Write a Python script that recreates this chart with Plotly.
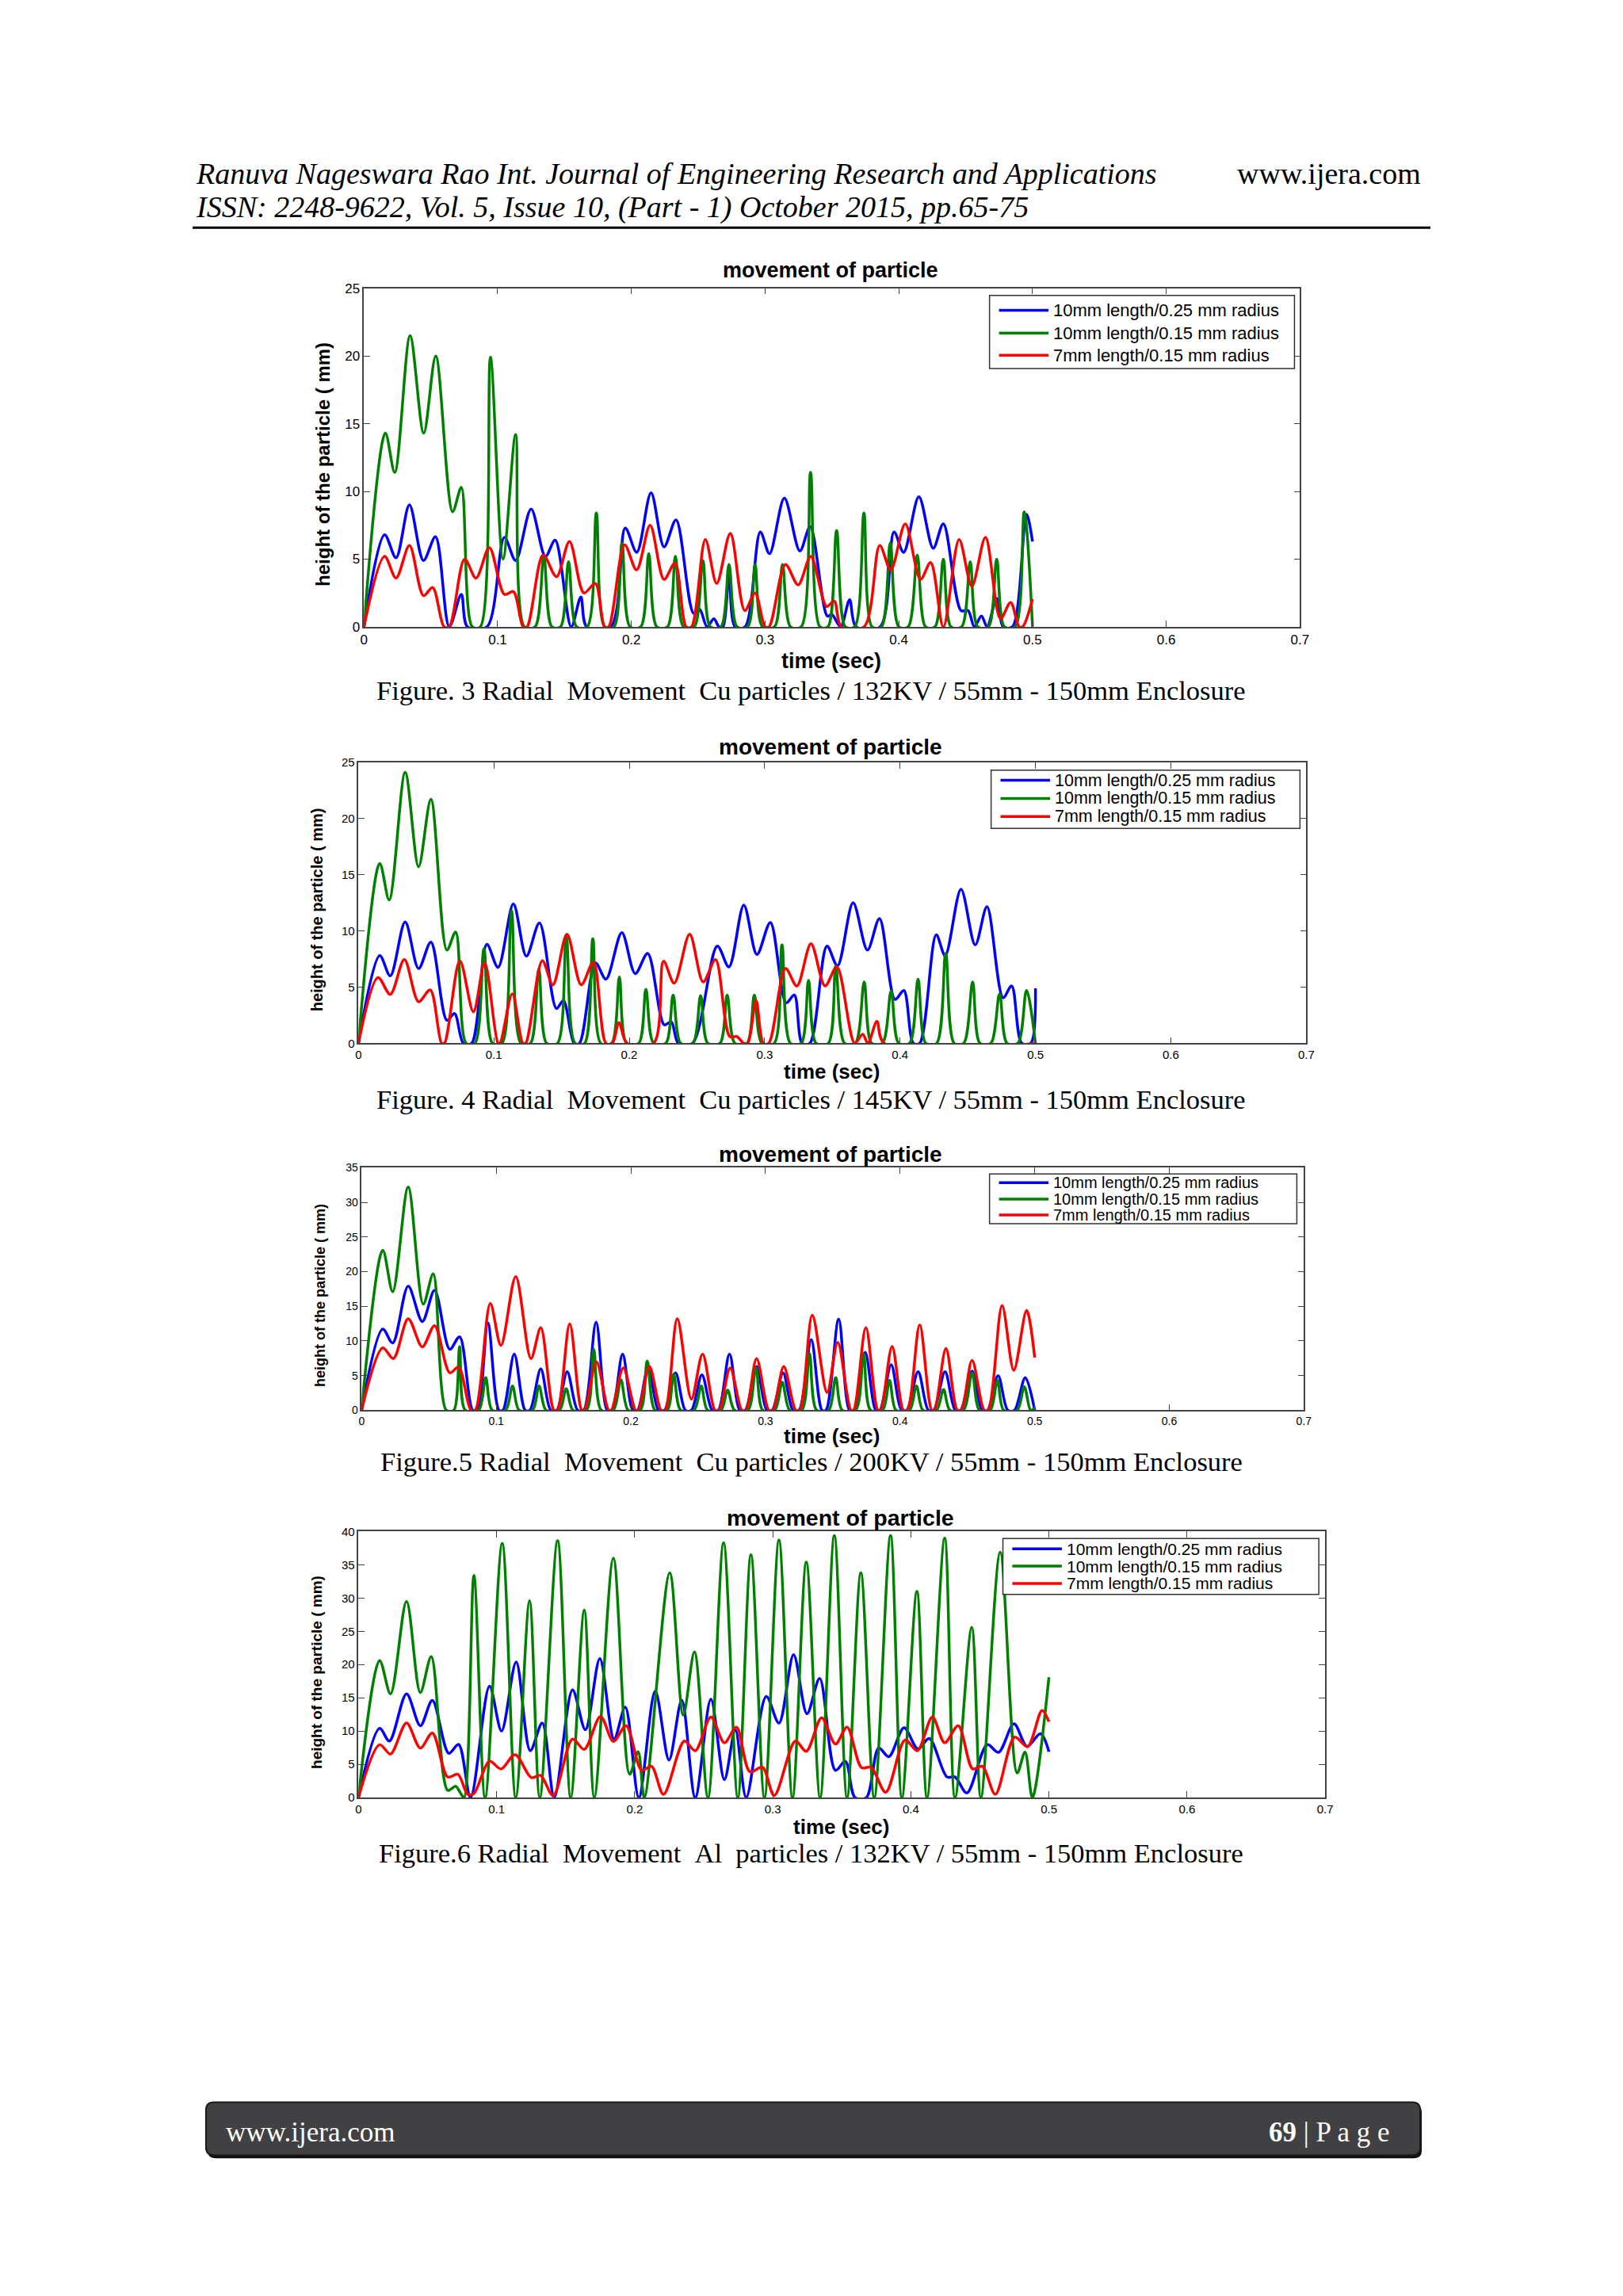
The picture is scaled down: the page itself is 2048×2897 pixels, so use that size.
import plotly.graph_objects as go

W, H = 2048, 2897


def fx(x):
    return x / W


def fy(y):
    return 1 - y / H


BLUE, GREEN, RED = "#0000ff", "#008000", "#ff0000"
SERIES_NAMES = ["10mm length/0.25 mm radius", "10mm length/0.15 mm radius", "7mm length/0.15 mm radius"]
X_TICKS = [0, 0.1, 0.2, 0.3, 0.4, 0.5, 0.6, 0.7]

# ---------------- Figure 3 (132 kV, Cu) ----------------
F3_BLUE = [(0, 0), (0.0154, 6.8), (0.024, 5.1), (0.034, 9.0), (0.0445, 4.9), (0.0535, 6.65), (0.0638, 0),
           (0.0728, 2.4), (0.0774, 0), (0.092, 0), (0.105, 6.6), (0.1134, 4.9), (0.125, 8.7), (0.1357, 5.2),
           (0.143, 6.4), (0.155, 0), (0.1622, 2.2), (0.1666, 0), (0.1846, 0), (0.1954, 7.3), (0.204, 5.5),
           (0.2147, 9.9), (0.2244, 5.9), (0.2334, 7.9), (0.2465, 1.0), (0.251, 1.3), (0.2566, 0), (0.2617, 0.6),
           (0.2655, 0), (0.2685, 0), (0.273, 3.8), (0.2775, 0), (0.285, 0), (0.2964, 7.0), (0.3033, 5.4),
           (0.3144, 9.5), (0.326, 5.6), (0.3337, 7.4), (0.3465, 0.8), (0.350, 0.9), (0.3565, 0), (0.3632, 2.0),
           (0.368, 0), (0.386, 0), (0.3964, 7.0), (0.4036, 5.5), (0.415, 9.6), (0.4257, 5.8), (0.4333, 7.6),
           (0.4465, 1.2), (0.4518, 1.2), (0.4565, 0), (0.4618, 0.8), (0.466, 0), (0.4732, 2.1), (0.478, 0),
           (0.485, 0), (0.4955, 8.3), (0.5, 6.3)]
F3_GREEN = [(0, 0), (0.016, 14.3), (0.023, 11.4), (0.0345, 21.5), (0.0447, 14.3), (0.0537, 20.0), (0.0663, 8.5),
            (0.0728, 10.3), (0.081, 0), (0.087, 0), (0.0946, 19.9), (0.104, 5.0), (0.1134, 14.2), (0.120, 0),
            (0.128, 0), (0.1345, 5.2), (0.1405, 0), (0.147, 0), (0.153, 4.8), (0.159, 0), (0.167, 0),
            (0.1738, 8.4), (0.180, 0), (0.187, 0), (0.193, 6.2), (0.199, 0), (0.207, 0), (0.213, 5.4), (0.219, 0),
            (0.227, 0), (0.2329, 5.2), (0.239, 0), (0.247, 0), (0.2535, 4.9), (0.259, 0), (0.267, 0), (0.273, 4.6),
            (0.279, 0), (0.287, 0), (0.2925, 4.6), (0.298, 0), (0.307, 0), (0.313, 4.6), (0.319, 0), (0.327, 0),
            (0.334, 11.4), (0.341, 0), (0.347, 0), (0.3535, 7.1), (0.360, 0), (0.367, 0), (0.3739, 8.4),
            (0.380, 0), (0.387, 0), (0.3936, 6.2), (0.400, 0), (0.407, 0), (0.4138, 5.3), (0.420, 0), (0.427, 0),
            (0.4333, 5.0), (0.439, 0), (0.447, 0), (0.4534, 4.8), (0.459, 0), (0.467, 0), (0.4732, 5.0),
            (0.479, 0), (0.487, 0), (0.4938, 8.5), (0.5, 0)]
F3_RED = [(0, 0), (0.0154, 5.2), (0.024, 3.6), (0.034, 6.0), (0.0445, 2.3), (0.0514, 2.9), (0.0599, 0),
          (0.0638, 0), (0.0753, 5.0), (0.0838, 3.6), (0.0938, 5.85), (0.105, 2.4), (0.1118, 2.6), (0.119, 0),
          (0.122, 0), (0.134, 5.3), (0.144, 3.7), (0.1537, 6.3), (0.1645, 2.5), (0.173, 3.2), (0.180, 0),
          (0.183, 0), (0.1949, 6.05), (0.2039, 4.2), (0.214, 7.5), (0.2244, 3.5), (0.2326, 4.7), (0.241, 0),
          (0.245, 0), (0.2553, 6.45), (0.2638, 3.2), (0.274, 6.9), (0.2848, 1.2), (0.2925, 2.5), (0.300, 0),
          (0.303, 0), (0.3152, 4.6), (0.3247, 3.1), (0.3342, 5.2), (0.346, 1.5), (0.3517, 1.9), (0.357, 0),
          (0.374, 0), (0.3857, 6.0), (0.394, 4.2), (0.4048, 7.6), (0.4162, 3.5), (0.4238, 4.75), (0.4333, 0),
          (0.4451, 6.45), (0.4546, 3.0), (0.4648, 6.6), (0.476, 0.6), (0.4836, 1.8), (0.490, 0), (0.4926, 0),
          (0.5, 2.05)]

# ---------------- Figure 4 (145 kV, Cu) ----------------
F4_BLUE = [(0, 0), (0.0157, 7.8), (0.0235, 6.0), (0.0345, 10.8), (0.0444, 6.65), (0.0535, 9.0), (0.0653, 2.05),
           (0.071, 2.65), (0.0775, 0), (0.0836, 0), (0.0948, 8.8), (0.1031, 6.75), (0.1144, 12.4), (0.124, 7.75),
           (0.1337, 10.7), (0.1462, 3.1), (0.1514, 3.8), (0.1593, 0), (0.1632, 0), (0.175, 7.15), (0.1828, 5.7),
           (0.1945, 9.85), (0.2044, 6.2), (0.2136, 8.0), (0.2258, 1.65), (0.231, 1.9), (0.2363, 0), (0.2467, 0),
           (0.265, 8.65), (0.2736, 6.8), (0.2846, 12.3), (0.2943, 7.9), (0.3042, 10.75), (0.3159, 3.6),
           (0.3219, 4.3), (0.3277, 0), (0.3334, 0), (0.346, 8.65), (0.3538, 6.9), (0.3653, 12.5), (0.3759, 8.3),
           (0.3848, 11.1), (0.3963, 3.9), (0.4028, 4.7), (0.4098, 0), (0.4145, 0), (0.4267, 9.65), (0.4333, 7.8),
           (0.445, 13.7), (0.4555, 8.75), (0.4642, 12.15), (0.4761, 4.05), (0.4824, 5.1), (0.4899, 0),
           (0.4965, 0), (0.5, 4.9)]
F4_GREEN = [(0, 0), (0.0157, 16.0), (0.0227, 12.75), (0.0345, 24.1), (0.0444, 15.7), (0.0535, 21.7),
            (0.0653, 8.3), (0.0718, 9.9), (0.0796, 0), (0.086, 0), (0.0927, 8.4), (0.099, 0), (0.106, 0),
            (0.113, 11.8), (0.120, 0), (0.127, 0), (0.1332, 6.6), (0.139, 0), (0.147, 0), (0.1535, 9.5),
            (0.160, 0), (0.167, 0), (0.1731, 9.3), (0.179, 0), (0.187, 0), (0.1927, 5.9), (0.198, 0), (0.207, 0),
            (0.2123, 4.8), (0.218, 0), (0.227, 0), (0.2324, 4.3), (0.238, 0), (0.247, 0), (0.2527, 4.25),
            (0.258, 0), (0.267, 0), (0.2723, 4.3), (0.278, 0), (0.287, 0), (0.2924, 4.3), (0.298, 0), (0.307, 0),
            (0.3128, 8.75), (0.319, 0), (0.327, 0), (0.3324, 5.6), (0.338, 0), (0.347, 0), (0.3525, 6.9),
            (0.359, 0), (0.367, 0), (0.3735, 5.45), (0.379, 0), (0.387, 0), (0.3934, 4.65), (0.399, 0),
            (0.407, 0), (0.4133, 5.7), (0.419, 0), (0.427, 0), (0.4337, 8.0), (0.440, 0), (0.447, 0),
            (0.4536, 5.45), (0.459, 0), (0.467, 0), (0.4735, 4.4), (0.479, 0), (0.487, 0), (0.4934, 4.7),
            (0.5, 0)]
F4_RED = [(0, 0), (0.0144, 5.85), (0.0235, 4.35), (0.0339, 7.45), (0.0444, 3.7), (0.053, 4.75), (0.0614, 0),
          (0.0635, 0), (0.0749, 7.35), (0.0849, 2.8), (0.0932, 7.15), (0.1031, 0), (0.1045, 0), (0.1136, 4.4),
          (0.1214, 0), (0.1235, 0), (0.1358, 7.35), (0.1436, 5.2), (0.154, 9.7), (0.1645, 5.2), (0.1735, 7.2),
          (0.1828, 0), (0.1875, 0), (0.1924, 1.85), (0.1984, 0), (0.218, 0), (0.2253, 7.3), (0.2332, 5.35),
          (0.2446, 9.7), (0.2546, 5.45), (0.2637, 7.45), (0.2742, 0.6), (0.2795, 0.6), (0.2845, 0), (0.2875, 0),
          (0.2937, 3.8), (0.299, 0), (0.303, 0), (0.3154, 6.65), (0.3238, 5.1), (0.3342, 8.85), (0.3446, 5.1),
          (0.3533, 6.8), (0.3665, 0), (0.3724, 0.8), (0.3763, 0), (0.3829, 1.95), (0.3883, 0), (0.5, 0)]

# ---------------- Figure 5 (200 kV, Cu) ----------------
F5_BLUE = [(0, 0), (0.0157, 11.7), (0.0231, 9.7), (0.0346, 17.9), (0.0451, 12.8), (0.0542, 17.3), (0.0655, 8.8),
           (0.0728, 10.6), (0.0825, 0), (0.086, 0), (0.0938, 12.6), (0.102, 0), (0.105, 0), (0.1134, 8.1),
           (0.1215, 0), (0.125, 0), (0.1331, 5.95), (0.1405, 0), (0.145, 0), (0.1527, 5.55), (0.1605, 0),
           (0.165, 0), (0.1742, 12.7), (0.1825, 0), (0.186, 0), (0.1939, 8.1), (0.2015, 0), (0.205, 0),
           (0.213, 6.3), (0.2205, 0), (0.225, 0), (0.2332, 5.4), (0.2405, 0), (0.245, 0), (0.2528, 5.1),
           (0.2605, 0), (0.265, 0), (0.2733, 8.1), (0.281, 0), (0.285, 0), (0.2934, 6.3), (0.301, 0), (0.305, 0),
           (0.3131, 5.4), (0.3205, 0), (0.325, 0), (0.334, 10.2), (0.342, 0), (0.345, 0), (0.3544, 13.15),
           (0.3625, 0), (0.366, 0), (0.3741, 8.35), (0.382, 0), (0.385, 0), (0.3934, 6.55), (0.401, 0),
           (0.405, 0), (0.4134, 5.55), (0.421, 0), (0.425, 0), (0.4334, 5.55), (0.441, 0), (0.445, 0),
           (0.4535, 5.65), (0.461, 0), (0.465, 0), (0.4728, 5.0), (0.480, 0), (0.485, 0), (0.4930, 4.7),
           (0.5, 0)]
F5_GREEN = [(0, 0), (0.0157, 23.1), (0.0231, 17.1), (0.0346, 32.2), (0.0458, 15.3), (0.0532, 19.7), (0.0629, 0),
            (0.0685, 0), (0.0728, 9.2), (0.077, 0), (0.087, 0), (0.0922, 4.7), (0.097, 0), (0.107, 0),
            (0.1121, 3.5), (0.117, 0), (0.127, 0), (0.1318, 3.5), (0.137, 0), (0.147, 0), (0.152, 3.1),
            (0.157, 0), (0.167, 0), (0.1724, 8.8), (0.178, 0), (0.187, 0), (0.1926, 4.4), (0.198, 0), (0.207, 0),
            (0.2122, 7.1), (0.218, 0), (0.227, 0), (0.2318, 5.2), (0.237, 0), (0.247, 0), (0.2523, 3.5),
            (0.257, 0), (0.267, 0), (0.2719, 2.9), (0.277, 0), (0.287, 0), (0.2929, 6.2), (0.298, 0), (0.307, 0),
            (0.3125, 4.05), (0.318, 0), (0.327, 0), (0.3327, 8.2), (0.338, 0), (0.347, 0), (0.3522, 4.7),
            (0.357, 0), (0.367, 0), (0.3729, 8.2), (0.378, 0), (0.387, 0), (0.3922, 4.3), (0.397, 0), (0.407, 0),
            (0.4122, 3.5), (0.417, 0), (0.427, 0), (0.4323, 3.0), (0.437, 0), (0.447, 0), (0.4535, 5.4),
            (0.459, 0), (0.467, 0), (0.4723, 4.3), (0.477, 0), (0.487, 0), (0.4923, 3.4), (0.497, 0), (0.5, 0.3)]
F5_RED = [(0, 0), (0.0157, 9.0), (0.0236, 7.45), (0.0346, 13.2), (0.0451, 9.15), (0.0542, 12.2), (0.0655, 5.4),
          (0.072, 6.2), (0.0812, 0), (0.0845, 0), (0.0956, 15.4), (0.1035, 9.35), (0.1145, 19.3), (0.1258, 7.45),
          (0.1331, 11.9), (0.1428, 0), (0.1455, 0), (0.1546, 12.45), (0.1635, 0), (0.1655, 0), (0.1744, 7.0),
          (0.1835, 0), (0.1855, 0), (0.1944, 6.1), (0.2035, 0), (0.2055, 0), (0.2138, 6.3), (0.2225, 0),
          (0.2255, 0), (0.2345, 13.2), (0.245, 1.6), (0.2533, 8.1), (0.2625, 0), (0.2655, 0), (0.2738, 6.1),
          (0.2825, 0), (0.2855, 0), (0.2934, 7.45), (0.3025, 0), (0.3055, 0), (0.3136, 6.3), (0.3225, 0),
          (0.3255, 0), (0.3348, 13.7), (0.3458, 2.55), (0.3537, 9.8), (0.3635, 0), (0.3655, 0), (0.3746, 11.9),
          (0.3835, 0), (0.3855, 0), (0.3941, 9.2), (0.4025, 0), (0.4055, 0), (0.4146, 12.3), (0.4235, 0),
          (0.4255, 0), (0.4341, 8.9), (0.4425, 0), (0.4455, 0), (0.4535, 7.2), (0.4625, 0), (0.4655, 0),
          (0.4758, 15.1), (0.4845, 5.75), (0.494, 14.4), (0.5, 7.6)]

# ---------------- Figure 6 (132 kV, Al) ----------------
F6_BLUE = [(0, 0), (0.0153, 10.4), (0.0224, 8.5), (0.0348, 15.6), (0.0448, 10.8), (0.0535, 14.6), (0.0654, 6.65),
           (0.0725, 8.0), (0.0812, 0), (0.0949, 16.75), (0.1036, 10.0), (0.1142, 20.4), (0.1244, 7.05),
           (0.1331, 11.2), (0.1418, 0), (0.155, 16.2), (0.1643, 10.2), (0.1748, 20.9), (0.1851, 8.8),
           (0.1932, 13.6), (0.203, 0), (0.2149, 16.0), (0.2249, 5.65), (0.2341, 14.65), (0.2439, 0),
           (0.2552, 14.8), (0.265, 2.7), (0.2729, 10.2), (0.2808, 0), (0.2953, 15.2), (0.3045, 11.2),
           (0.3151, 21.5), (0.3248, 12.6), (0.334, 17.9), (0.3454, 4.1), (0.3526, 5.45), (0.3596, 0),
           (0.3678, 0), (0.3767, 7.45), (0.3841, 6.15), (0.3951, 10.5), (0.4051, 7.3), (0.4133, 8.9),
           (0.4262, 3.1), (0.432, 3.1), (0.4406, 0.7), (0.4553, 7.95), (0.4635, 6.8), (0.4747, 11.1),
           (0.4841, 7.7), (0.4939, 9.6), (0.5, 6.9)]
F6_GREEN = [(0, 0), (0.0153, 20.6), (0.0232, 15.6), (0.0348, 29.5), (0.0448, 15.8), (0.0527, 21.2),
            (0.0646, 1.1), (0.0704, 1.7), (0.0738, 0.7), (0.0765, 0), (0.0836, 33.4), (0.0917, 0),
            (0.1041, 38.2), (0.1139, 0), (0.1239, 29.6), (0.1313, 0), (0.1442, 38.6), (0.1537, 0),
            (0.1635, 28.2), (0.1708, 0), (0.1846, 36.0), (0.1964, 3.5), (0.2025, 6.9), (0.207, 0),
            (0.2254, 33.8), (0.2352, 12.4), (0.2433, 21.9), (0.2531, 0), (0.2644, 38.3), (0.2747, 0),
            (0.2842, 36.5), (0.294, 0), (0.3045, 38.7), (0.3143, 0), (0.3243, 35.4), (0.3343, 0),
            (0.3446, 39.4), (0.3538, 0), (0.3638, 33.8), (0.3735, 0), (0.3853, 39.4), (0.3935, 0),
            (0.4044, 31.0), (0.4117, 0), (0.4245, 39.0), (0.432, 0), (0.4441, 25.6), (0.4507, 0),
            (0.4647, 36.9), (0.477, 3.7), (0.4827, 6.85), (0.488, 0), (0.5, 18.1)]
F6_RED = [(0, 0), (0.0153, 7.95), (0.0232, 6.55), (0.0348, 11.2), (0.0448, 7.45), (0.0535, 9.7), (0.0646, 3.1),
          (0.072, 3.5), (0.0791, 0.5), (0.0835, 0.6), (0.0949, 5.45), (0.1033, 4.3), (0.1134, 6.45),
          (0.1252, 3.0), (0.1318, 3.35), (0.141, 0.3), (0.155, 8.8), (0.1635, 7.25), (0.1753, 12.2),
          (0.1846, 8.45), (0.1938, 10.8), (0.2051, 4.1), (0.2122, 4.7), (0.2209, 0.5), (0.236, 8.5),
          (0.2439, 7.05), (0.2552, 12.1), (0.265, 8.25), (0.2737, 10.6), (0.2834, 3.9), (0.2926, 4.55),
          (0.3011, 0.3), (0.3164, 8.5), (0.3243, 6.95), (0.3354, 12.0), (0.3454, 8.05), (0.3538, 10.6),
          (0.3643, 4.5), (0.3713, 4.55), (0.3818, 0.8), (0.3958, 8.65), (0.4047, 7.05), (0.4156, 12.1),
          (0.4245, 8.25), (0.4343, 10.8), (0.4448, 4.3), (0.4518, 4.7), (0.4612, 0.5), (0.4752, 9.1),
          (0.4845, 7.65), (0.495, 13.1), (0.5, 11.4)]

CAPTIONS = [
    "Figure. 3 Radial \u00a0Movement \u00a0Cu particles / 132KV / 55mm - 150mm Enclosure",
    "Figure. 4 Radial \u00a0Movement \u00a0Cu particles / 145KV / 55mm - 150mm Enclosure",
    "Figure.5 Radial \u00a0Movement \u00a0Cu particles / 200KV / 55mm - 150mm Enclosure",
    "Figure.6 Radial \u00a0Movement \u00a0Al \u00a0particles / 132KV / 55mm - 150mm Enclosure",
]
Y_MAX = [25, 25, 35, 40]
DATA = [(F3_BLUE, F3_GREEN, F3_RED), (F4_BLUE, F4_GREEN, F4_RED),
        (F5_BLUE, F5_GREEN, F5_RED), (F6_BLUE, F6_GREEN, F6_RED)]

# layout (pixel positions on the page)
PANELS = [
    dict(box=(450, 1641, 349, 779), tick=17, leg=(1246, 1634, 358, 451), leg_rows=(377, 406, 434), legfont=22,
         title=(1044, 326, 27), xl=(1045, 822, 27), yl=(398, 573, 24), cap_y=860),
    dict(box=(443, 1649, 951, 1308), tick=15, leg=(1248, 1641, 961, 1035), leg_rows=(974, 997, 1020),
         legfont=21.5, title=(1044, 932, 28), xl=(1045, 1344, 26), yl=(390, 1138, 20), cap_y=1379),
    dict(box=(447, 1646, 1466, 1774), tick=14, leg=(1246, 1637, 1474, 1537), leg_rows=(1485, 1506, 1526),
         legfont=20, title=(1044, 1449, 28), xl=(1045, 1807, 26), yl=(395, 1628, 18), cap_y=1839),
    dict(box=(443, 1673, 1928, 2266), tick=15, leg=(1263, 1665, 1937, 2008), leg_rows=(1950, 1972, 1994),
         legfont=21, title=(1056, 1911, 28.5), xl=(1057, 2303, 26), yl=(389, 2107, 19), cap_y=2336),
]

SANS = "Liberation Sans, Arial, sans-serif"
SERIF = "Liberation Serif, Times New Roman, serif"

fig = go.Figure()
layout = dict(width=W, height=H, margin=dict(l=0, r=0, t=0, b=0), paper_bgcolor="white",
              plot_bgcolor="white", showlegend=False)
annotations = []
shapes = []

for i, (panel, series, ymax, cap) in enumerate(zip(PANELS, DATA, Y_MAX, CAPTIONS)):
    n = i + 1
    xa = "x" if n == 1 else f"x{n}"
    ya = "y" if n == 1 else f"y{n}"
    for pts, color, name in zip(series, (BLUE, GREEN, RED), SERIES_NAMES):
        t, y = zip(*pts)
        fig.add_trace(go.Scatter(x=list(t), y=list(y), mode="lines", name=name, xaxis=xa, yaxis=ya,
                                 line=dict(color=color, width=3.5, shape="spline", smoothing=0.9),
                                 hoverinfo="skip"))
    L, R, T, B = panel["box"]
    axis_common = dict(showgrid=False, zeroline=False, showline=True, linecolor="#444", linewidth=1.5,
                       mirror="ticks", ticks="inside", ticklen=8, tickwidth=1, tickcolor="#444",
                       tickfont=dict(family=SANS, size=panel["tick"], color="black"), fixedrange=True)
    layout["xaxis" if n == 1 else f"xaxis{n}"] = dict(
        domain=[fx(L), fx(R)], anchor=ya, range=[0, 0.7], tickvals=X_TICKS,
        ticktext=[("%g" % v) for v in X_TICKS], **axis_common)
    yt = list(range(0, ymax + 1, 5))
    layout["yaxis" if n == 1 else f"yaxis{n}"] = dict(
        domain=[fy(B), fy(T)], anchor=xa, range=[0, ymax], tickvals=yt, **axis_common)

    # legend box (drawn like the MATLAB legend)
    lx0, lx1, ly0, ly1 = panel["leg"]
    shapes.append(dict(type="rect", xref="paper", yref="paper", x0=fx(lx0), x1=fx(lx1), y0=fy(ly1), y1=fy(ly0),
                       fillcolor="white", line=dict(color="#333", width=1.5), layer="above"))
    for row_y, color, name in zip(panel["leg_rows"], (BLUE, GREEN, RED), SERIES_NAMES):
        shapes.append(dict(type="line", xref="paper", yref="paper", x0=fx(lx0 + 12), x1=fx(lx0 + 75),
                           y0=fy(row_y), y1=fy(row_y), line=dict(color=color, width=3.5), layer="above"))
        annotations.append(dict(text=name, x=fx(lx0 + 79), y=fy(row_y), xref="paper", yref="paper",
                                showarrow=False, xanchor="left", yanchor="middle",
                                font=dict(family=SANS, size=panel["legfont"], color="black")))

    tx, ty, ts = panel["title"]
    annotations.append(dict(text="movement of particle", x=fx(tx), y=fy(ty),
                            xref="paper", yref="paper", showarrow=False, xanchor="center", yanchor="middle",
                            font=dict(family=SANS, size=ts, color="black", weight="bold")))
    xx, xy, xs = panel["xl"]
    annotations.append(dict(text="time (sec)", x=fx(xx), y=fy(xy),
                            xref="paper", yref="paper", showarrow=False, xanchor="center", yanchor="middle",
                            font=dict(family=SANS, size=xs, color="black", weight="bold")))
    yx, yy, ys = panel["yl"]
    annotations.append(dict(text="height of the particle ( mm)", x=fx(yx), y=fy(yy),
                            xref="paper", yref="paper", showarrow=False, xanchor="center", yanchor="middle",
                            textangle=-90, font=dict(family=SANS, size=ys, color="black", weight="bold")))
    annotations.append(dict(text=cap, x=fx(1019), y=fy(panel["cap_y"]), xref="paper", yref="paper",
                            showarrow=False, xanchor="center", yanchor="middle",
                            font=dict(family=SERIF, size=34.5, color="black")))

# page header
annotations.append(dict(text="Ranuva Nageswara Rao Int. Journal of Engineering Research and Applications",
                        x=fx(234), y=fy(203), xref="paper", yref="paper", showarrow=False, xanchor="left",
                        yanchor="middle", font=dict(family=SERIF, size=38, color="black", style="italic")))
annotations.append(dict(text="www.ijera.com", x=fx(1797), y=fy(203), xref="paper", yref="paper",
                        showarrow=False, xanchor="right", yanchor="middle",
                        font=dict(family=SERIF, size=38, color="black")))
annotations.append(dict(text="ISSN: 2248-9622, Vol. 5, Issue 10, (Part - 1) October 2015, pp.65-75",
                        x=fx(234), y=fy(246), xref="paper", yref="paper", showarrow=False, xanchor="left",
                        yanchor="middle", font=dict(family=SERIF, size=38, color="black", style="italic")))
shapes.append(dict(type="line", xref="paper", yref="paper", x0=fx(232), x1=fx(1807), y0=fy(272), y1=fy(272),
                   line=dict(color="black", width=3)))


# page footer box
def rounded_rect(x0, y0, x1, y1, r):
    return (f"M {fx(x0 + r)} {fy(y0)} L {fx(x1 - r)} {fy(y0)} Q {fx(x1)} {fy(y0)} {fx(x1)} {fy(y0 + r)} "
            f"L {fx(x1)} {fy(y1 - r)} Q {fx(x1)} {fy(y1)} {fx(x1 - r)} {fy(y1)} "
            f"L {fx(x0 + r)} {fy(y1)} Q {fx(x0)} {fy(y1)} {fx(x0)} {fy(y1 - r)} "
            f"L {fx(x0)} {fy(y0 + r)} Q {fx(x0)} {fy(y0)} {fx(x0 + r)} {fy(y0)} Z")


shapes.append(dict(type="path", xref="paper", yref="paper", path=rounded_rect(251, 2656, 1796, 2724, 10),
                   fillcolor="#111111", line=dict(width=0)))
shapes.append(dict(type="path", xref="paper", yref="paper", path=rounded_rect(249, 2653, 1794, 2720, 10),
                   fillcolor="#414042", line=dict(color="#1a1a1a", width=2)))
annotations.append(dict(text="www.ijera.com", x=fx(272), y=fy(2691), xref="paper", yref="paper",
                        showarrow=False, xanchor="left", yanchor="middle",
                        font=dict(family=SERIF, size=35, color="white")))
annotations.append(dict(text="<b>69</b> | P a g e", x=fx(1758), y=fy(2691), xref="paper", yref="paper",
                        showarrow=False, xanchor="right", yanchor="middle",
                        font=dict(family=SERIF, size=35, color="white")))

layout["annotations"] = annotations
layout["shapes"] = shapes
fig.update_layout(**layout)
fig.write_html("out.html")
